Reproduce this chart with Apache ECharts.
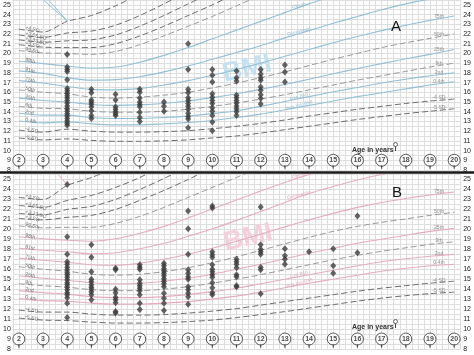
<!DOCTYPE html>
<html><head><meta charset="utf-8">
<script src="https://cdn.jsdelivr.net/npm/echarts@6/dist/echarts.min.js"></script>
<style>html,body{margin:0;padding:0;background:#fff}#c{width:474px;height:355px}</style>
</head><body><div id="c"></div><script>
// ages for centile curves (years)
const ages = [2,3,4,5,6,7,8,9,10,11,12,13,14,15,16,17,18,19,20];
const circleAges = [2,3,4,5,6,7,8,9,10,11,12,13,14,15,16,17,18,19,20];

// Panel A (blue) centile / SD curves, BMI at ages 2..20
const A_sdp4   = [22.5, 22.2, 23.3, 23.9, 24.9, 26.1];
const A_sdp366 = [21.9, 21.65, 22.1, 22.3, 22.9, 23.9, 25.1, 26.4];
const A_sdp333 = [21.4, 21.15, 21.3, 21.4, 21.9, 22.8, 23.9, 25.1, 26.3];
const A_sdp3   = [20.9, 20.65, 20.6, 20.6, 21.0, 21.8, 22.8, 23.9, 25.0, 26.2];
const A_p996   = [20.3, 20.05, 20.0, 19.9, 20.2, 20.9, 21.8, 22.8, 23.8, 24.9, 26.0];
const A_p98    = [19.2, 18.95, 18.7, 18.5, 18.6, 19.1, 19.8, 20.6, 21.5, 22.4, 23.3, 24.2, 25.1, 25.9];
const A_p91    = [18.2, 17.95, 17.5, 17.25, 17.3, 17.6, 18.1, 18.7, 19.4, 20.1, 20.8, 21.6, 22.35, 23.1, 23.8, 24.5, 25.1, 25.6, 26.0];
const A_p75    = [17.2, 16.95, 16.6, 16.3, 16.25, 16.4, 16.75, 17.2, 17.75, 18.35, 19.0, 19.7, 20.4, 21.1, 21.75, 22.35, 22.9, 23.4, 23.85];
const A_p50    = [16.25, 16.0, 15.85, 15.5, 15.4, 15.5, 15.7, 16.0, 16.45, 16.95, 17.5, 18.1, 18.75, 19.4, 20.0, 20.6, 21.1, 21.55, 22.0];
const A_p25    = [15.4, 15.15, 15.0, 14.75, 14.65, 14.7, 14.85, 15.1, 15.45, 15.85, 16.3, 16.8, 17.35, 17.9, 18.45, 18.95, 19.45, 19.9, 20.4];
const A_p9     = [14.55, 14.35, 14.3, 14.05, 13.95, 13.95, 14.05, 14.25, 14.55, 14.9, 15.3, 15.75, 16.25, 16.75, 17.25, 17.7, 18.15, 18.6, 19.0];
const A_p2     = [13.85, 13.65, 13.65, 13.4, 13.3, 13.3, 13.4, 13.55, 13.8, 14.1, 14.55, 15.05, 15.55, 16.05, 16.5, 16.95, 17.35, 17.7, 18.0];
const A_p04    = [13.05, 12.85, 12.95, 12.75, 12.65, 12.65, 12.75, 12.9, 13.1, 13.4, 13.75, 14.2, 14.65, 15.1, 15.55, 15.95, 16.35, 16.75, 17.1];
const A_sdm4   = [12.1, 11.9, 12.2, 12.0, 11.9, 11.9, 11.95, 12.05, 12.25, 12.5, 12.8, 13.15, 13.55, 13.9, 14.25, 14.55, 14.85, 15.1, 15.3];
const A_sdm5   = [11.3, 11.1, 11.2, 11.05, 10.95, 10.95, 11.0, 11.1, 11.3, 11.5, 11.8, 12.15, 12.5, 12.85, 13.2, 13.5, 13.8, 14.05, 14.3];
const A_steepAges = [3.02, 4];
const A_steepBMI  = [25.5, 23.35];
const A_steepAges2 = [3.23, 4];

// Panel B (pink) centile / SD curves, BMI at ages 2..20
const B_sdp4   = [23.2, 23.0, 24.4, 25.2, 26.2];
const B_sdp366 = [22.4, 22.2, 22.9, 23.4, 24.2, 25.2, 26.4];
const B_sdp333 = [21.6, 21.45, 22.0, 22.3, 23.0, 24.0, 25.1, 26.3];
const B_sdp3   = [21.1, 20.95, 21.2, 21.4, 22.0, 22.9, 23.9, 25.0, 26.2];
const B_p996   = [20.35, 20.15, 20.2, 20.2, 20.6, 21.3, 22.2, 23.2, 24.2, 25.2, 26.2];
const B_p98    = [19.25, 19.05, 18.9, 18.8, 19.05, 19.6, 20.3, 21.15, 22.05, 22.95, 23.85, 24.7, 25.5, 26.2];
const B_p91    = [18.1, 17.9, 17.75, 17.55, 17.65, 18.05, 18.6, 19.3, 20.05, 20.9, 21.8, 22.7, 23.6, 24.3, 24.95, 25.5, 25.9, 26.2, 26.5];
const B_p75    = [17.1, 16.9, 16.7, 16.45, 16.4, 16.6, 17.0, 17.5, 18.1, 18.8, 19.5, 20.25, 20.95, 21.6, 22.2, 22.7, 23.1, 23.45, 23.75];
const B_p50    = [16.25, 16.0, 15.8, 15.5, 15.4, 15.5, 15.75, 16.15, 16.65, 17.25, 17.9, 18.55, 19.2, 19.8, 20.3, 20.7, 21.05, 21.4, 21.7];
const B_p25    = [15.35, 15.1, 14.9, 14.65, 14.55, 14.6, 14.8, 15.1, 15.5, 16.0, 16.5, 17.05, 17.6, 18.1, 18.6, 19.0, 19.4, 19.8, 20.1];
const B_p9     = [14.55, 14.35, 14.2, 13.95, 13.85, 13.85, 14.0, 14.25, 14.6, 15.0, 15.45, 15.95, 16.45, 16.95, 17.4, 17.8, 18.15, 18.5, 18.75];
const B_p2     = [13.85, 13.65, 13.5, 13.25, 13.15, 13.15, 13.25, 13.45, 13.75, 14.1, 14.55, 15.0, 15.45, 15.9, 16.35, 16.75, 17.05, 17.3, 17.5];
const B_p04    = [13.05, 12.85, 12.8, 12.6, 12.5, 12.5, 12.6, 12.75, 13.0, 13.3, 13.7, 14.15, 14.6, 15.0, 15.4, 15.8, 16.1, 16.35, 16.5];
const B_sdm4   = [11.9, 11.7, 11.7, 11.5, 11.4, 11.4, 11.45, 11.6, 11.8, 12.05, 12.4, 12.75, 13.1, 13.45, 13.8, 14.1, 14.35, 14.6, 14.8];
const B_sdm5   = [11.1, 10.9, 10.85, 10.7, 10.6, 10.6, 10.65, 10.75, 10.9, 11.15, 11.45, 11.75, 12.1, 12.45, 12.8, 13.1, 13.35, 13.55, 13.7];
const B_steepAges = [3.63, 3.95];
const B_steepBMI  = [25.5, 24.6];

// Observed BMI values, panel A, by age column
const A4  = [19.9, 18.6, 18.35, 18.15, 17.3, 16.4, 16.15, 15.9, 15.65, 15.4, 15.15, 14.9, 14.6, 14.3, 14.05, 13.8, 13.55, 13.3, 13.05, 12.8, 12.6];
const A5  = [16.3, 15.95, 15.2, 15.0, 14.8, 14.5, 14.1, 13.6, 13.3];
const A6  = [15.8, 15.2, 14.5, 14.25, 14.0, 13.8, 13.6];
const A7  = [16.3, 16.0, 15.4, 15.0, 14.75, 14.5, 13.95, 13.4, 13.0];
const A8  = [15.0, 14.55, 14.05];
const A9  = [21.0, 18.35, 16.3, 15.95, 15.45, 15.15, 14.85, 14.55, 14.25, 13.85, 13.5, 13.25, 12.35];
const A10 = [18.35, 17.75, 17.05, 15.85, 15.5, 15.15, 14.85, 14.4, 14.05, 13.6, 12.95, 12.05];
const A11 = [18.2, 17.5, 17.15, 15.7, 15.45, 15.15, 14.9, 14.6, 14.3, 14.0, 13.6];
const A12 = [18.35, 17.85, 17.5, 17.25, 16.55, 16.2, 15.75, 15.35, 14.8];
const A13 = [18.8, 18.1, 17.05];

// Observed BMI values, panel B, by age column
const B4  = [24.5, 19.25, 17.5, 16.75, 16.5, 16.2, 15.95, 15.65, 15.45, 15.2, 14.95, 14.65, 14.45, 14.2, 13.95, 13.65, 13.45, 13.15, 12.6, 11.15];
const B5  = [18.45, 17.2, 15.75, 15.0, 14.75, 14.45, 14.2, 14.0, 13.75, 13.45, 12.95];
const B6  = [16.1, 15.95, 14.0, 13.65, 13.2, 12.95, 12.65, 11.75, 11.6];
const B7  = [16.45, 16.2, 16.0, 14.95, 14.6, 14.35, 14.1, 13.85, 13.45, 12.6, 11.95];
const B8  = [16.6, 16.35, 16.05, 15.85, 15.6, 15.35, 15.05, 14.8, 14.55, 14.25, 13.6, 13.1, 12.6, 11.85];
const B9  = [21.85, 20.05, 17.5, 15.95, 15.6, 15.25, 15.0, 14.25, 13.95, 13.6, 13.25, 12.5];
const B10 = [22.35, 22.15, 17.75, 17.45, 17.2, 16.45, 16.0, 15.75, 15.45, 15.2, 14.65, 14.15, 13.65, 13.45];
const B11 = [17.0, 16.75, 16.5, 16.15, 15.45, 15.25, 14.35, 14.25];
const B12 = [22.25, 18.45, 18.0, 17.75, 17.5, 16.2, 15.95, 13.55];
const B13 = [18.05, 17.35, 17.0, 16.5];
const B14 = [17.75];
const B15 = [18.05, 16.35, 15.6];
const B16 = [21.35, 17.65];

const rightLabelNames = ['75th','50th','25th','9th','2nd','0.4th','-4 SD','-5 SD'];
const leftLabelNames = ['+4 SD','+3.66 SD','+3.33 SD','+3 SD','99.6th','98th','91st','75th','50th','25th','9th','2nd','0.4th','-4 SD','-5 SD'];
const midLabelNames = ['Obese','Overweight','Low BMI','Very low BMI'];
</script>
<script>
const chart = echarts.init(document.getElementById('c'), null, {renderer:'canvas'});
const FONT = 'Liberation Sans, Arial, sans-serif';

const panels = [
  { curves: [A_sdp4,A_sdp366,A_sdp333,A_sdp3,A_p996,A_p98,A_p91,A_p75,A_p50,A_p25,A_p9,A_p2,A_p04,A_sdm4,A_sdm5],
    right: [A_p75,A_p50,A_p25,A_p9,A_p2,A_p04,A_sdm4,A_sdm5],
    mid: [A_p98,A_p91,A_p2,A_p04],
    points: [[4,A4],[5,A5],[6,A6],[7,A7],[8,A8],[9,A9],[10,A10],[11,A11],[12,A12],[13,A13]],
    steep: [[A_steepAges,A_steepBMI],[A_steepAges2,A_steepBMI]],
    solid: '#93c0d6', text: '#86b4cc' },
  { curves: [B_sdp4,B_sdp366,B_sdp333,B_sdp3,B_p996,B_p98,B_p91,B_p75,B_p50,B_p25,B_p9,B_p2,B_p04,B_sdm4,B_sdm5],
    right: [B_p75,B_p50,B_p25,B_p9,B_p2,B_p04,B_sdm4,B_sdm5],
    mid: [B_p98,B_p91,B_p2,B_p04],
    points: [[4,B4],[5,B5],[6,B6],[7,B7],[8,B8],[9,B9],[10,B10],[11,B11],[12,B12],[13,B13],[14,B14],[15,B15],[16,B16]],
    steep: [[B_steepAges,B_steepBMI]],
    solid: '#e6adbf', text: '#dc9fb2' }
];
// line kind per curve index: sd = dark dashed, dash = grey dashed, solid = colour
const kinds = ['sd','sd','sd','sd','dash','solid','solid','solid','dash','solid','dash','solid','solid','sd','sd'];

const grids = [
  {left: 10.6, top: 0, width: 452.1, height: 170},
  {left: 10.6, top: 174.5, width: 452.1, height: 174.5}
];
const xAxes = [], yAxes = [], series = [];
grids.forEach((g, p) => {
  xAxes.push({gridIndex: p, type: 'value', min: 1.75, max: 20.25, interval: 0.25,
    axisLine:{show:false}, axisTick:{show:false}, axisLabel:{show:false},
    splitLine:{show:true, lineStyle:{color:'#dedede', width:1}}});
  const yl = {gridIndex: p, type:'value', min: 8, max: 25.5, interval: 0.5,
    axisLine:{show:false}, axisTick:{show:false},
    axisLabel:{fontSize: 7, color:'#222', fontFamily: FONT, margin: 2,
      formatter: v => (Math.abs(v - Math.round(v)) < 1e-6 ? String(Math.round(v)) : '')},
    splitLine:{show:true, lineStyle:{color:'#dedede', width:1}}};
  yAxes.push(Object.assign({}, yl, {position:'left'}));
  yAxes.push(Object.assign({}, yl, {position:'right', splitLine:{show:false},
    axisLabel: Object.assign({}, yl.axisLabel, {margin: 3})}));
});

panels.forEach((P, p) => {
  const xi = p, yi = p * 2;
  P.curves.forEach((arr, k) => {
    const kind = kinds[k];
    const ls = kind === 'solid' ? {color: P.solid, width: 1.1, type: 'solid'}
             : kind === 'dash' ? {color: '#9a9a9a', width: 1, type: [6, 3]}
             : {color: '#6e6e6e', width: 1, type: [6, 3]};
    series.push({type:'line', xAxisIndex: xi, yAxisIndex: yi, silent: true,
      data: arr.map((v, i) => [ages[i], v]), showSymbol: false, smooth: 0.3,
      lineStyle: ls, z: 2, animation: false});
    // left labels
    series.push({type:'scatter', xAxisIndex: xi, yAxisIndex: yi, silent: true, symbolSize: 0,
      data: [[ages[0], arr[0]]], z: 3, animation: false,
      label: {show: true, position: 'right', offset: [1, -2], rotate: -14, formatter: leftLabelNames[k],
        fontSize: 5.2, color: '#555', fontFamily: FONT}});
  });
  P.steep.forEach(([xs, ys]) => {
    series.push({type:'line', xAxisIndex: xi, yAxisIndex: yi, silent: true, showSymbol: false,
      data: xs.map((x, i) => [x, ys[i]]), lineStyle: {color: P.solid, width: 1}, z: 2, animation: false});
  });
  // right labels
  series.push({type:'scatter', xAxisIndex: xi, yAxisIndex: yi, silent: true, symbolSize: 0, z: 3, animation:false,
    data: P.right.map((arr, k) => ({value: [ages[17], (arr[17] + arr[18]) / 2], name: rightLabelNames[k]})),
    label: {show: true, position: 'inside', offset: [9, -2], formatter: d => d.name,
      fontSize: 5.2, color: '#777', fontFamily: FONT}});
  // mid labels
  series.push({type:'scatter', xAxisIndex: xi, yAxisIndex: yi, silent: true, symbolSize: 0, z: 3, animation:false,
    data: P.mid.map((arr, k) => ({value: [13.6, arr[11] + (arr[12] - arr[11]) * 0.6], name: midLabelNames[k]})),
    label: {show: true, position: 'inside', offset: [0, -2], rotate: 14, formatter: d => d.name,
      fontSize: 4.8, color: P.text, fontFamily: FONT}});
  // observed points
  const pts = [];
  P.points.forEach(([a, vals]) => vals.forEach(v => pts.push([a, v])));
  series.push({type:'scatter', xAxisIndex: xi, yAxisIndex: yi, silent: true, data: pts,
    symbol: 'diamond', symbolSize: [6, 7], itemStyle: {color: '#3c3c3c'}, z: 5, animation: false});
  // age circles
  series.push({type:'scatter', xAxisIndex: xi, yAxisIndex: yi, silent: true,
    data: circleAges.map(a => [a, 9]), symbol: 'circle', symbolSize: 12, z: 6, animation: false,
    itemStyle: {color: '#fff', borderColor: '#333', borderWidth: 1},
    label: {show: true, position: 'inside', formatter: d => String(d.value[0]), fontSize: 7,
      fontWeight: 'bold', color: '#222', fontFamily: FONT}});
  series.push({type:'scatter', xAxisIndex: xi, yAxisIndex: yi, silent: true,
    data: circleAges.map(a => [a, 8.3]), symbol: 'rect', symbolSize: [1.2, 3.5], z: 6, animation: false,
    itemStyle: {color: '#333'}});
});

const graphic = [
  {type:'text', x: 247, y: 69, rotation: 0.22, z: 1, style:{text:'BMI', font:'bold 27px ' + FONT,
    fill:'#c4e1f1', textAlign:'center', textVerticalAlign:'middle'}},
  {type:'text', x: 248, y: 238, rotation: 0.22, z: 1, style:{text:'BMI', font:'bold 27px ' + FONT,
    fill:'#f5cfdb', textAlign:'center', textVerticalAlign:'middle'}},
  {type:'line', shape:{x1:0, y1:172.5, x2:474, y2:172.5}, style:{stroke:'#1a1a1a', lineWidth:2.5}, z: 20},
  {type:'text', x: 396, y: 27, z: 20, style:{text:'A', font:'15px ' + FONT, fill:'#111', textAlign:'center', textVerticalAlign:'middle'}},
  {type:'text', x: 397, y: 193, z: 20, style:{text:'B', font:'15px ' + FONT, fill:'#111', textAlign:'center', textVerticalAlign:'middle'}},
  {type:'text', x: 352, y: 150, z: 20, style:{text:'Age in years', font:'bold 7px ' + FONT, fill:'#333', textVerticalAlign:'middle'}},
  {type:'text', x: 352, y: 327, z: 20, style:{text:'Age in years', font:'bold 7px ' + FONT, fill:'#333', textVerticalAlign:'middle'}},
  {type:'circle', shape:{cx:395.5, cy:144.5, r:2}, style:{fill:'#fff', stroke:'#444', lineWidth:0.8}, z: 20},
  {type:'line', shape:{x1:395.5, y1:146.5, x2:395.5, y2:151}, style:{stroke:'#444', lineWidth:1}, z: 20},
  {type:'circle', shape:{cx:395.5, cy:321.5, r:2}, style:{fill:'#fff', stroke:'#444', lineWidth:0.8}, z: 20},
  {type:'line', shape:{x1:395.5, y1:323.5, x2:395.5, y2:328}, style:{stroke:'#444', lineWidth:1}, z: 20}
];

chart.setOption({animation: false, backgroundColor: '#fff', grid: grids, xAxis: xAxes, yAxis: yAxes,
  series: series, graphic: graphic});
</script></body></html>
